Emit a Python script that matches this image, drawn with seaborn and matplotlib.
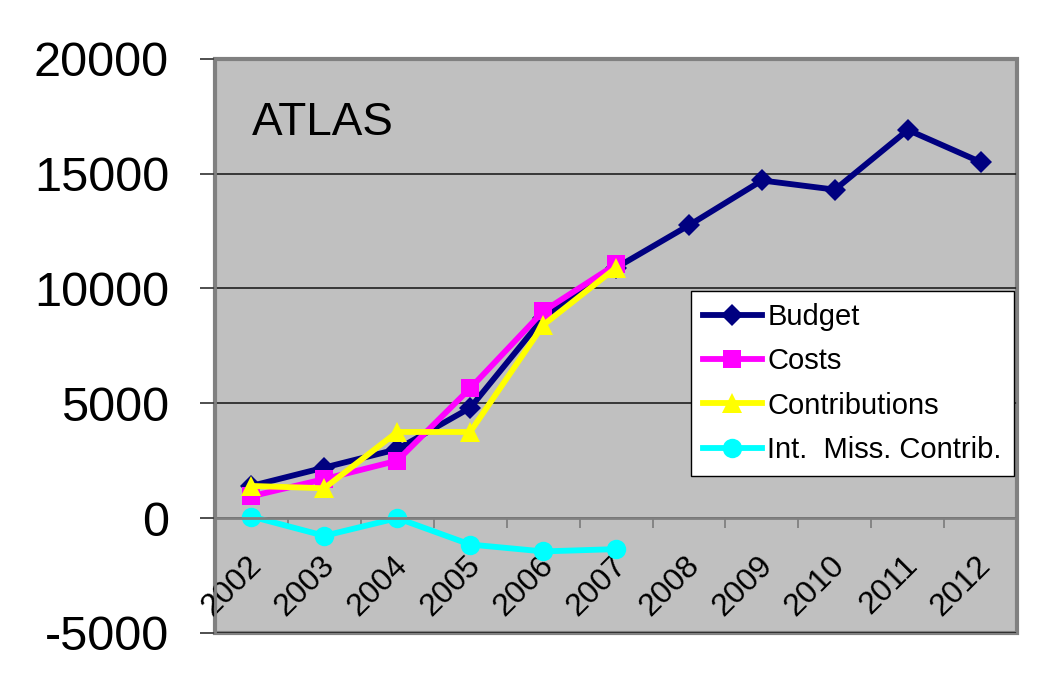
import numpy as np
import pandas as pd
import matplotlib
matplotlib.use('Agg')
import matplotlib.pyplot as plt
import matplotlib.transforms as mtransforms
import seaborn as sns

# data
years = list(range(2002, 2013))
budget = [1400, 2200, 3000, 4800, 8700, 10900, 12750, 14700, 14300, 16900, 15500]
costs = [950, 1700, 2500, 5650, 9000, 11050]
contributions = [1400, 1300, 3750, 3750, 8400, 10900]
int_miss = [70, -770, 0, -1150, -1450, -1350]
y_ticks = [-5000, 0, 5000, 10000, 15000, 20000]

plt.rcParams['font.family'] = ['Liberation Sans', 'DejaVu Sans']
plt.rcParams['axes.unicode_minus'] = False

fig = plt.figure(figsize=(10.38, 6.91), dpi=100)
ax = fig.add_axes([0.207, 0.084, 0.773, 0.831])
ax.set_facecolor('#C0C0C0')

series = [
    ("Budget", years, budget, '#000080', 'D', 11.5),
    ("Costs", years[:6], costs, '#FF00FF', 's', 13),
    ("Contributions", years[:6], contributions, '#FFFF00', '^', 15),
    ("Int.  Miss. Contrib.", years[:6], int_miss, '#00FFFF', 'o', 14),
]
for name, xs, ys, col, mk, ms in series:
    sns.lineplot(x=xs, y=ys, ax=ax, color=col, marker=mk, markersize=ms,
                 markeredgewidth=0, linewidth=4.2, label=name)

ax.set_xlim(2001.5, 2012.5)
ax.set_ylim(-5000, 20000)

# y axis
ax.set_yticks(y_ticks)
ax.set_yticklabels([str(v) for v in y_ticks])
ax.tick_params(axis='y', length=11, width=1.3, color='#404040',
               labelsize=35, pad=22)
ax.yaxis.grid(True, color='#202020', linewidth=1.2)
ax.set_axisbelow(True)

# x axis sits on the zero line
ax.spines['bottom'].set_position(('data', 0))
ax.spines['bottom'].set_color('#808080')
ax.spines['bottom'].set_linewidth(2)
ax.set_xticks(years)
ax.set_xticklabels([str(y) for y in years], rotation=45, ha='right',
                   rotation_mode='anchor')
ax.tick_params(axis='x', which='major', length=0, labelsize=23, pad=23)
ax.set_xticks(np.arange(2001.5, 2013.0, 1.0), minor=True)
ax.tick_params(axis='x', which='minor', length=7, width=1.3,
               color='#808080', direction='out')
shift = mtransforms.ScaledTranslation(-5 / 100, 0, fig.dpi_scale_trans)
for lab in ax.get_xticklabels():
    lab.set_transform(lab.get_transform() + shift)

for side in ['left', 'top', 'right']:
    ax.spines[side].set_color('#808080')
    ax.spines[side].set_linewidth(2)
ax.patch.set_edgecolor('#808080')
ax.patch.set_linewidth(3)

ax.text(0.046, 0.868, "ATLAS", transform=ax.transAxes, fontsize=33,
        ha='left', va='baseline')

leg = ax.legend(loc='upper right', bbox_to_anchor=(0.996, 0.596),
                fontsize=21, frameon=True, fancybox=False, framealpha=1,
                edgecolor='black', borderaxespad=0, labelspacing=0.56,
                handlelength=2.0, handletextpad=0.2, borderpad=0.42)
leg.get_frame().set_linewidth(1)

plt.savefig('out.png', dpi=100)
